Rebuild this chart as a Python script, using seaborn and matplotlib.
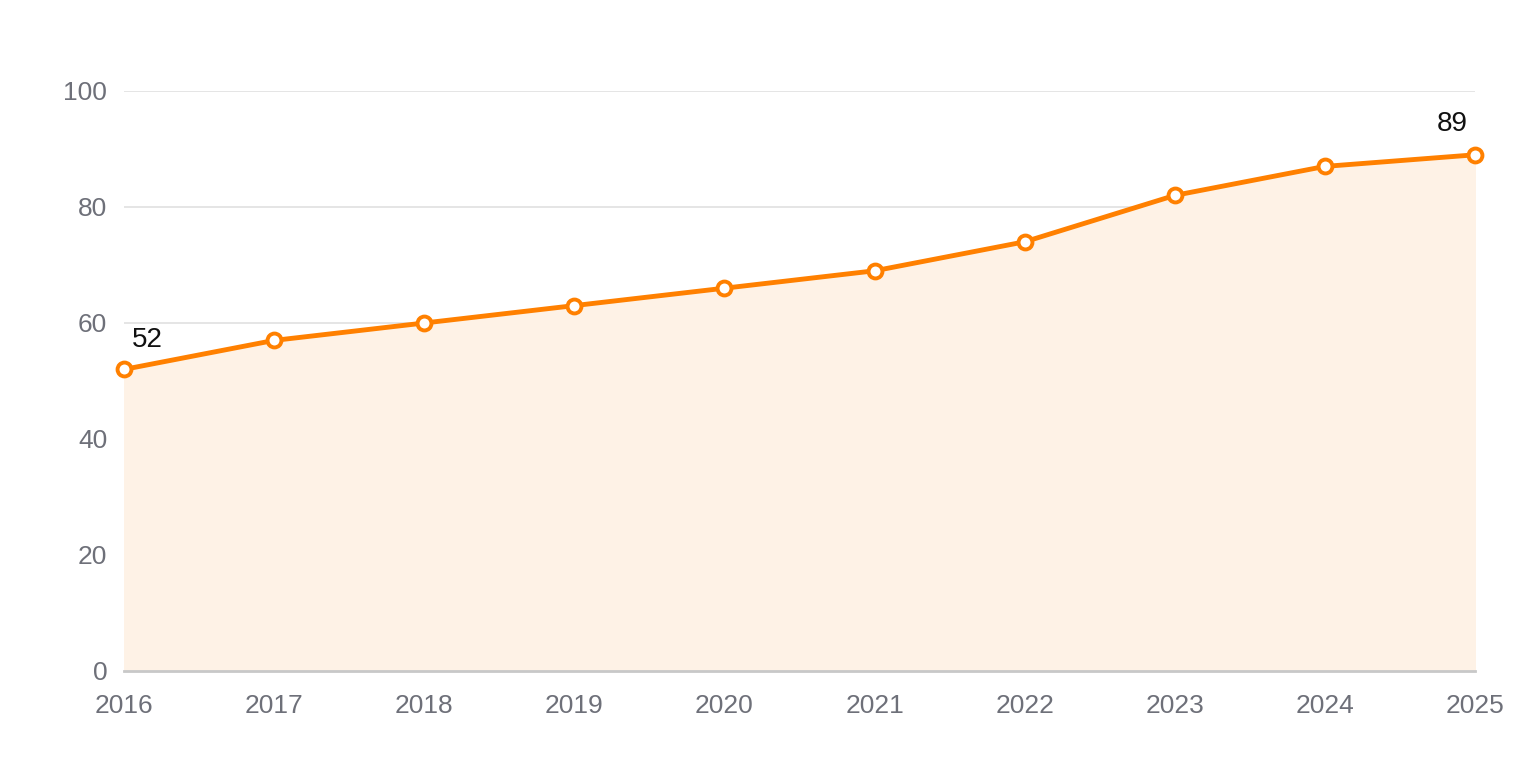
import matplotlib
matplotlib.use("Agg")
import matplotlib.pyplot as plt
import seaborn as sns
import pandas as pd

years = ["2016", "2017", "2018", "2019", "2020", "2021", "2022", "2023", "2024", "2025"]
values = [52, 57, 60, 63, 66, 69, 74, 82, 87, 89]
y_ticks = [0, 20, 40, 60, 80, 100]

sns.set_theme(style="white")
plt.rcParams['font.family'] = ['Liberation Sans', 'DejaVu Sans']

df = pd.DataFrame({"year": years, "value": values})
df["x"] = range(len(df))

fig = plt.figure(figsize=(15.2, 7.6), dpi=100)
ax = fig.add_axes([124/1520, 89/760, (1475-124)/1520, (671-91)/760])

ax.fill_between(df["x"], 0, df["value"], color="#FEF2E6", zorder=1)
sns.lineplot(data=df, x="x", y="value", ax=ax, color="#FF8000", linewidth=3.5,
             marker="o", markersize=10, markerfacecolor="white",
             markeredgecolor="#FF8000", markeredgewidth=2.8, zorder=4, clip_on=False)

ax.set_xlim(0, len(years) - 1)
ax.set_ylim(0, 100)
ax.set_yticks(y_ticks)
ax.set_xticks(df["x"])
ax.set_xticklabels(years)
ax.yaxis.grid(True, color="#E0E0E0", linewidth=1.2, zorder=0)
ax.xaxis.grid(False)
for s in ["top", "right", "left"]:
    ax.spines[s].set_visible(False)
ax.spines["bottom"].set_color("#C8C8C8")
ax.spines["bottom"].set_linewidth(2)
ax.spines["bottom"].set_zorder(3)
ax.tick_params(axis="both", length=0, labelsize=19, colors="#6E7079")
ax.tick_params(axis="y", pad=12)
ax.tick_params(axis="x", pad=16.5)
ax.set_xlabel("")
ax.set_ylabel("")
ax.set_axisbelow(True)

ax.annotate(str(values[0]), (0, values[0]), xytext=(16.5, 21.5), textcoords="offset points",
            ha="center", va="center", fontsize=20, color="#111111")
ax.annotate(str(values[-1]), (len(values) - 1, values[-1]), xytext=(-16.5, 22.5), textcoords="offset points",
            ha="center", va="center", fontsize=20, color="#111111")

fig.savefig("out.png", dpi=100, facecolor="white")
